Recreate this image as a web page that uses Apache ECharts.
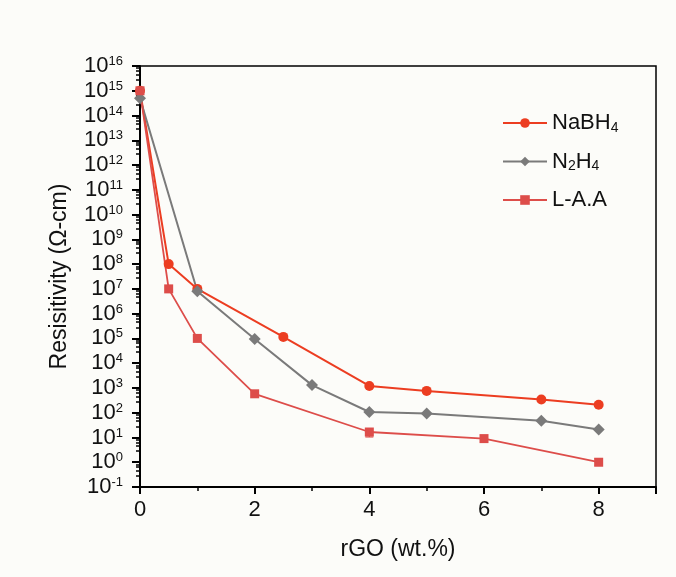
<!DOCTYPE html>
<html>
<head>
<meta charset="utf-8">
<script src="https://cdn.jsdelivr.net/npm/echarts@6/dist/echarts.min.js"></script>
<style>
html,body{margin:0;padding:0;background:#fcfcf9;}
#chart{width:676px;height:577px;}
</style>
</head>
<body>
<div id="chart"></div>
<script>
// ---- data ----
var seriesNames = ['NaBH4', 'N2H4', 'L-A.A'];
var nabh4X = [0, 0.5, 1, 2.5, 4, 5, 7, 8];
var nabh4Y = [1e15, 1e8, 1e7, 1.15e5, 1.2e3, 7.6e2, 3.4e2, 2.1e2];
var n2h4X = [0, 1, 2, 3, 4, 5, 7, 8];
var n2h4Y = [5e14, 8e6, 9.5e4, 1.3e3, 1.07e2, 93, 47, 21];
var laaX = [0, 0.5, 1, 2, 4, 6, 8];
var laaY = [1e15, 1e7, 1e5, 5.8e2, 16.6, 9, 1];
// error bars for L-A.A: [x, low, high]
var laaErrX = [4, 8];
var laaErrLow = [10.5, 0.75];
var laaErrHigh = [17, 1.4];

function pairs(xs, ys) { return xs.map(function (x, i) { return [x, ys[i]]; }); }

var chart = echarts.init(document.getElementById('chart'), null, {renderer: 'canvas'});
var FONT = '"Liberation Sans", Arial, sans-serif';

var legendRich = {
  t: {fontSize: 22, lineHeight: 24, fontFamily: FONT, color: '#111'},
  s: {fontSize: 14, lineHeight: 8, verticalAlign: 'bottom', fontFamily: FONT, color: '#111'}
};
var legendFmt = {
  'NaBH4': '{t|NaBH}{s|4}',
  'N2H4': '{t|N}{s|2}{t|H}{s|4}',
  'L-A.A': '{t|L-A.A}'
};

var option = {
  backgroundColor: '#fcfcf9',
  animation: false,
  grid: {left: 140, right: 20, top: 66, bottom: 90, show: true, borderColor: '#000', borderWidth: 1.5, backgroundColor: 'transparent'},
  legend: {
    orient: 'vertical',
    left: 497, top: 107,
    itemWidth: 44, itemHeight: 12,
    itemGap: 15.5,
    data: seriesNames,
    formatter: function (n) { return legendFmt[n]; },
    textStyle: {rich: legendRich, fontSize: 22, fontFamily: FONT}
  },
  xAxis: {
    type: 'value', min: 0, max: 9, interval: 2,
    name: 'rGO (wt.%)', nameLocation: 'middle', nameGap: 51,
    nameTextStyle: {fontSize: 23, fontFamily: FONT, color: '#111'},
    axisLine: {show: true, onZero: false, lineStyle: {color: '#000', width: 2}},
    axisTick: {show: true, inside: false, length: 7, lineStyle: {color: '#000', width: 2}},
    minorTick: {show: true, splitNumber: 2, length: 4, lineStyle: {color: '#000', width: 1.5}},
    splitLine: {show: false},
    axisLabel: {fontSize: 22, fontFamily: FONT, color: '#111', margin: 12, showMaxLabel: false,
      formatter: function (v) { return (v % 2 === 0) ? String(v) : ''; }}
  },
  yAxis: {
    type: 'log', logBase: 10, min: 0.1, max: 1e16, interval: 1,
    name: 'Resisitivity (\u03A9-cm)', nameLocation: 'middle', nameGap: 69,
    nameTextStyle: {fontSize: 23, fontFamily: FONT, color: '#111'},
    axisLine: {show: true, onZero: false, lineStyle: {color: '#000', width: 2}},
    axisTick: {show: true, inside: false, length: 8, lineStyle: {color: '#000', width: 2}},
    minorTick: {show: true, splitNumber: 5, length: 4, lineStyle: {color: '#000', width: 1.5}},
    splitLine: {show: false},
    axisLabel: {
      margin: 17, fontFamily: FONT,
      formatter: function (v) {
        var e = Math.round(Math.log(v) / Math.LN10);
        return '{b|10}{s|' + e + '}';
      },
      rich: {
        b: {fontSize: 22, lineHeight: 22, fontFamily: FONT, color: '#111'},
        s: {fontSize: 13, lineHeight: 4, verticalAlign: 'top', fontFamily: FONT, color: '#111'}
      }
    }
  },
  series: [
    {
      name: 'NaBH4', type: 'line', data: pairs(nabh4X, nabh4Y),
      symbol: 'circle', symbolSize: 10,
      itemStyle: {color: '#ec3d21'},
      lineStyle: {color: '#ec3d21', width: 2}
    },
    {
      name: 'N2H4', type: 'line', data: pairs(n2h4X, n2h4Y),
      symbol: 'diamond', symbolSize: 12,
      itemStyle: {color: '#7a7a7a'},
      lineStyle: {color: '#7a7a7a', width: 2}
    },
    {
      name: 'L-A.A', type: 'line', data: pairs(laaX, laaY),
      symbol: 'rect', symbolSize: 9,
      itemStyle: {color: '#dd4d4a'},
      lineStyle: {color: '#dd4d4a', width: 1.8}
    },
    {
      name: 'L-A.A err', type: 'custom',
      data: laaErrX.map(function (x, i) { return [x, laaErrLow[i], laaErrHigh[i]]; }),
      renderItem: function (params, api) {
        var lo = api.coord([api.value(0), api.value(1)]);
        var hi = api.coord([api.value(0), api.value(2)]);
        var w = 4;
        var st = {stroke: '#dd4d4a', lineWidth: 1.2};
        return {type: 'group', children: [
          {type: 'line', shape: {x1: lo[0], y1: lo[1], x2: hi[0], y2: hi[1]}, style: st},
          {type: 'line', shape: {x1: lo[0] - w, y1: lo[1], x2: lo[0] + w, y2: lo[1]}, style: st},
          {type: 'line', shape: {x1: hi[0] - w, y1: hi[1], x2: hi[0] + w, y2: hi[1]}, style: st}
        ]};
      },
      z: 1
    }
  ]
};
chart.setOption(option);
</script>
</body>
</html>
